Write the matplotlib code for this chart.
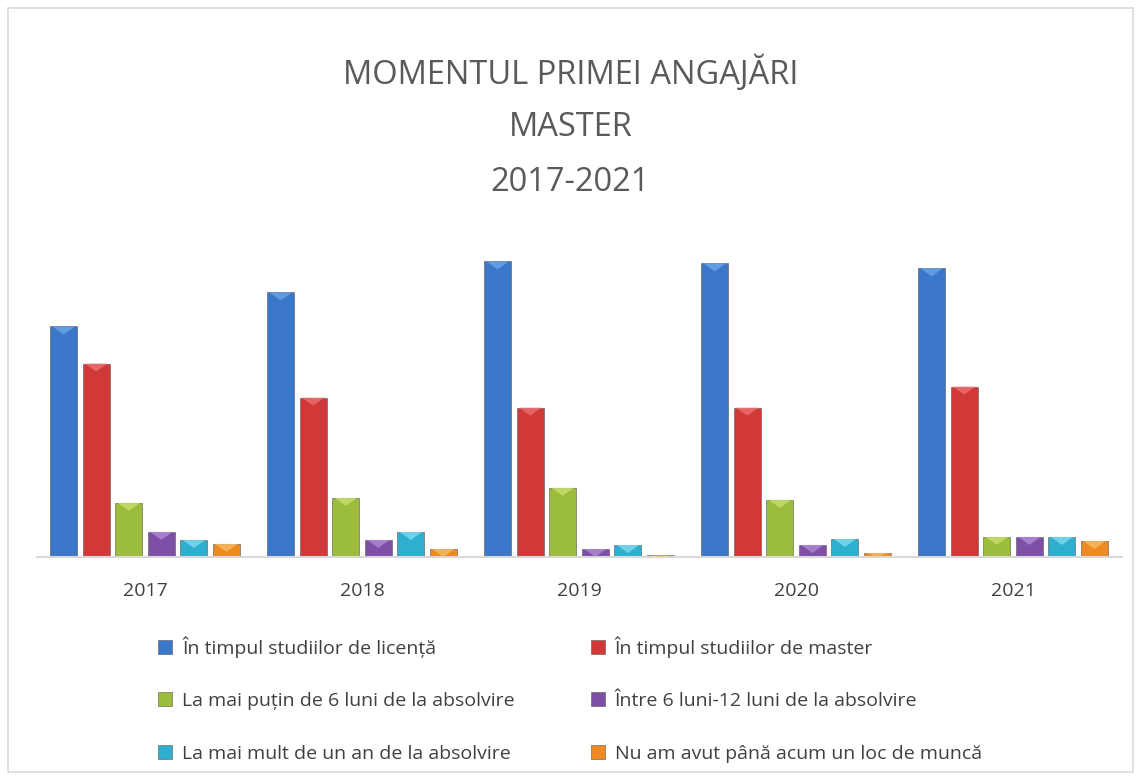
import matplotlib.pyplot as plt
import numpy as np
from matplotlib.patches import Rectangle, Polygon

# values (no axis in the original, relative bar heights)
years = ["2017", "2018", "2019", "2020", "2021"]
series_names = [
    "În timpul studiilor de licență",
    "În timpul studiilor de master",
    "La mai puțin de 6 luni de la absolvire",
    "Între 6 luni-12 luni de la absolvire",
    "La mai mult de un an de la absolvire",
    "Nu am avut până acum un loc de muncă",
]
licenta = [230, 264, 295, 293, 288]
master = [193, 159, 149, 149, 170]
sub6 = [54, 59, 69, 57, 20]
intre6_12 = [25, 17, 8, 12, 20]
peste_an = [17, 25, 12, 18, 20]
fara_loc = [13, 8, 1.5, 4, 16]
series = [licenta, master, sub6, intre6_12, peste_an, fara_loc]

colors = ["#3b77c8", "#d13838", "#9cbc3c", "#7d4fa6", "#2eafcf", "#ee8a1f"]
tops = ["#6da3e8", "#ee7070", "#c8e070", "#b08ad6", "#7fdcf0", "#f8bb66"]

plt.rcParams['font.family'] = ['Open Sans', 'DejaVu Sans']

fig = plt.figure(figsize=(11.41, 7.80), dpi=100)
fig.patches.append(Rectangle((0.007, 0.01), 0.986, 0.98, transform=fig.transFigure,
                             fill=False, edgecolor="#d9d9d9", linewidth=1.2))

ax = fig.add_axes([0.032, 0.286, 0.951, 0.42])
x = np.arange(len(years))
width = 0.124
step = 0.15
handles = []
for i, vals in enumerate(series):
    pos = x + (i - 2.5) * step
    bars = ax.bar(pos, vals, width, color=colors[i], edgecolor="#555555",
                  linewidth=0.4, label=series_names[i], zorder=2)
    handles.append(bars)
    for b in bars:
        h = b.get_height()
        x0 = b.get_x()
        w = b.get_width()
        d = min(8, h)
        tri = Polygon([[x0 + w * 0.08, h], [x0 + w * 0.92, h], [x0 + w / 2, h - d]],
                      closed=True, facecolor=tops[i], edgecolor="none", alpha=0.8, zorder=3)
        ax.add_patch(tri)

ax.set_xlim(-0.5, 4.5)
ax.set_ylim(0, 327)
ax.set_xticks(x)
ax.set_xticklabels(years, fontsize=14, color="#404040")
ax.tick_params(axis="x", length=0, pad=18)
ax.set_yticks([])
for s in ["top", "right", "left"]:
    ax.spines[s].set_visible(False)
ax.spines["bottom"].set_color("#d9d9d9")
ax.spines["bottom"].set_linewidth(1.5)

title_lines = ["MOMENTUL PRIMEI ANGAJĂRI", "MASTER", "2017-2021"]
for k, t in enumerate(title_lines):
    fig.text(0.5, 0.906 - k * 0.07, t, ha="center", va="center", fontsize=23.5,
             color="#5a5a5a")

# legend is filled row by row in the original
order = [0, 2, 4, 1, 3, 5]
leg = fig.legend(handles=[handles[j] for j in order],
                 labels=[series_names[j] for j in order], loc="upper left",
                 bbox_to_anchor=(0.123, 0.207), ncol=2, frameon=False,
                 fontsize=14, handlelength=0.75, handleheight=0.75,
                 columnspacing=3.9, labelspacing=1.78, handletextpad=0.5)
for t in leg.get_texts():
    t.set_color("#404040")

fig.savefig("out.png", dpi=100)
